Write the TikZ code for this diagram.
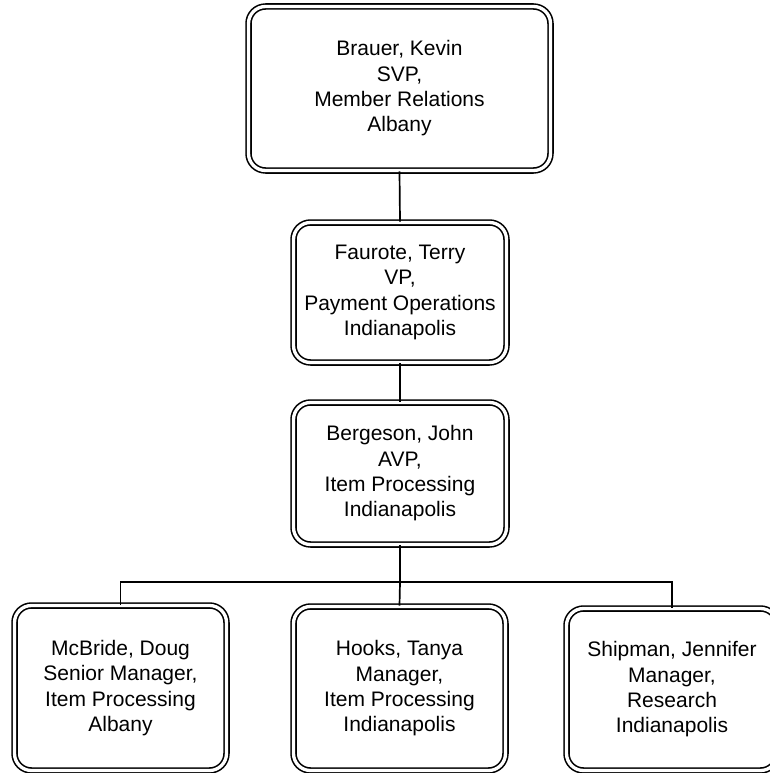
\documentclass[tikz,border=0pt]{standalone}
\usepackage{fontspec}
\setmainfont{Liberation Sans}
\begin{document}
\begin{tikzpicture}[x=1pt,y=-1pt,
  person/.style={draw, rounded corners=17pt, double, double distance=3.3pt, line width=1.6pt,
    inner sep=0pt, align=center, font=\fontsize{21}{25.3}\selectfont},
  link/.style={line width=1.7pt}]
\useasboundingbox (0,0) rectangle (770,773);
\clip (0,0) rectangle (770,773);
\node[person, minimum width=302pt, minimum height=164pt] (brauer) at (399.5,88.5)
  {Brauer, Kevin\\SVP,\\Member Relations\\Albany};
\node[person, minimum width=213pt, minimum height=140pt] (faurote) at (400,292.5)
  {Faurote, Terry\\VP,\\Payment Operations\\Indianapolis};
\node[person, minimum width=213pt, minimum height=142pt] (bergeson) at (400,473.5)
  {Bergeson, John\\AVP,\\Item Processing\\Indianapolis};
\node[person, minimum width=212pt, minimum height=165pt] (mcbride) at (120.5,688)
  {McBride, Doug\\Senior Manager,\\Item Processing\\Albany};
\node[person, minimum width=212pt, minimum height=164pt] (hooks) at (399.5,688.5)
  {Hooks, Tanya\\Manager,\\Item Processing\\Indianapolis};
\node[person, minimum width=211pt, minimum height=162pt] (shipman) at (672,689.5)
  {Shipman, Jennifer\\Manager,\\Research\\Indianapolis};
\coordinate (bus) at (400,582);
\draw[link] (brauer.south) -- (faurote.north);
\draw[link] (faurote.south) -- (bergeson.north);
\draw[link] (bergeson.south) -- (bus);
\draw[link] (mcbride.north) |- (bus) -| (shipman.north);
\draw[link] (bus) -- (hooks.north);
\end{tikzpicture}
\end{document}
